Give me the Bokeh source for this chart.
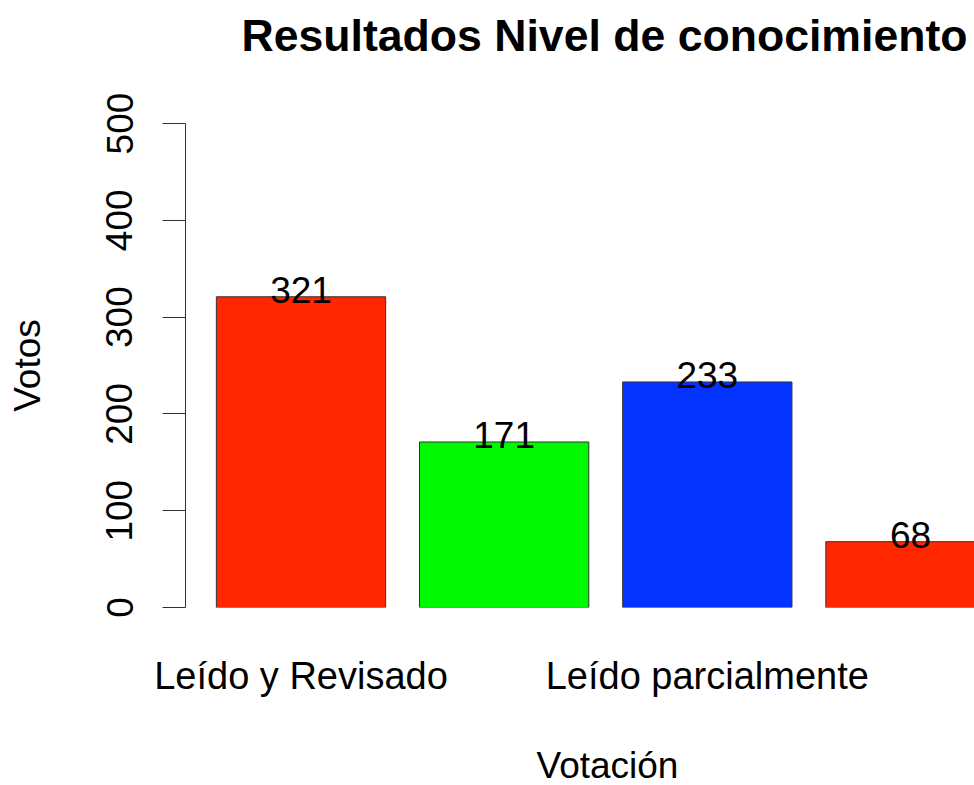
from bokeh.plotting import figure
from bokeh.models import Range1d, FixedTicker, Title
from bokeh.core.properties import value
from bokeh.embed import file_html
from bokeh.resources import INLINE

# ---- data ----
categories = ["Leído y Revisado", "Leído sin revisar", "Leído parcialmente", "No leído"]
votes = [321, 171, 233, 68]
bar_colors = ["#FF2600", "#00F900", "#0433FF", "#FF2600"]
y_ticks = [0, 100, 200, 300, 400, 500]
shown_labels = [0, 2]          # R drops the overlapping names of bars 2 and 4
title_text = "Resultados Nivel de conocimiento"
x_title = "Votación"
y_title = "Votos"

FONT = "Liberation Sans"

# R barplot layout: width 1, space 0.2
space, bw = 0.2, 1.0
centers = [round(space + bw / 2 + i * (space + bw), 3) for i in range(len(votes))]
px_per_unit = 169.3
frame_left = 185
frame_w = 974 - frame_left
x0 = 0.0178
x1 = x0 + frame_w / px_per_unit

p = figure(width=974, height=785, output_backend="svg", toolbar_location=None,
           x_range=Range1d(x0, x1), y_range=Range1d(0, 500),
           min_border_left=frame_left, min_border_right=0,
           min_border_top=123, min_border_bottom=178)
p.outline_line_color = None
p.xgrid.visible = False
p.ygrid.visible = False
p.background_fill_color = "white"
p.border_fill_color = "white"

p.vbar(x=centers, top=votes, bottom=0, width=bw, fill_color=bar_colors,
       line_color="#333333", line_width=1)

p.text(x=centers, y=votes, text=[str(v) for v in votes],
       text_font=value(FONT), text_font_size="37px", text_color="black",
       text_align="center", text_baseline="middle", y_offset=-7)

# y axis
ya = p.yaxis[0]
ya.ticker = FixedTicker(ticks=y_ticks)
ya.major_label_orientation = "parallel"
ya.major_label_text_font = FONT
ya.major_label_text_font_size = "37px"
ya.major_label_text_color = "black"
ya.major_label_standoff = 30
ya.major_tick_out = 23
ya.major_tick_in = 0
ya.minor_tick_line_color = None
ya.axis_line_color = "#333333"
ya.major_tick_line_color = "#333333"
ya.axis_label = y_title
ya.axis_label_text_font = FONT
ya.axis_label_text_font_size = "37px"
ya.axis_label_text_font_style = "normal"
ya.axis_label_text_color = "black"
ya.axis_label_standoff = 56

# x axis
xa = p.xaxis[0]
xa.ticker = FixedTicker(ticks=[centers[i] for i in shown_labels])
xa.major_label_overrides = {centers[i]: categories[i] for i in shown_labels}
xa.major_label_text_font = FONT
xa.major_label_text_font_size = "38px"
xa.major_label_text_color = "black"
xa.major_label_standoff = 47
xa.axis_line_color = None
xa.major_tick_line_color = None
xa.minor_tick_line_color = None
xa.major_tick_out = 0
xa.major_tick_in = 0

# title and x label: R centres them on its whole plot region (wider than the crop),
# so they are left-aligned with an offset; blank spacer titles set the vertical gaps
p.add_layout(Title(text=" ", text_font_size="1px", standoff=61), "above")
p.add_layout(Title(text=title_text, align="left", offset=56, standoff=0,
                   text_font=FONT, text_font_size="44.6px", text_font_style="bold",
                   text_color="black"), "above")
p.add_layout(Title(text=" ", text_font_size="1px", standoff=40), "below")
p.add_layout(Title(text=x_title, align="left", offset=351, standoff=0,
                   text_font=FONT, text_font_size="37px", text_font_style="normal",
                   text_color="black"), "below")

open("out.html", "w").write(file_html(p, INLINE))
